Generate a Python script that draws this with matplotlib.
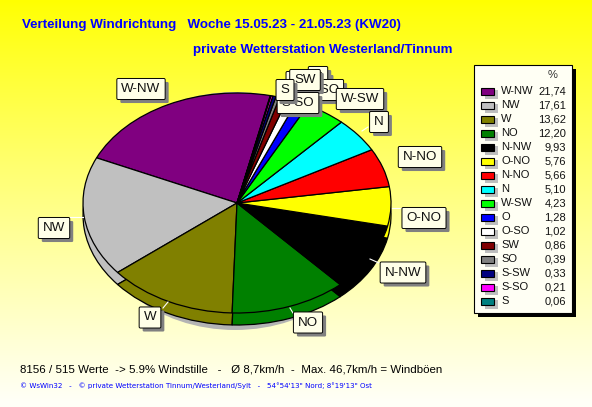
import numpy as np
import matplotlib
matplotlib.use("Agg")
import matplotlib.pyplot as plt
from matplotlib.patches import Rectangle, Ellipse

plt.rcParams['font.family'] = ['Liberation Sans', 'DejaVu Sans']

labels = ["W-NW", "NW", "W", "NO", "N-NW", "O-NO", "N-NO", "N", "W-SW", "O", "O-SO", "SW", "SO", "S-SW", "S-SO", "S"]
values = [21.74, 17.61, 13.62, 12.20, 9.93, 5.76, 5.66, 5.10, 4.23, 1.28, 1.02, 0.86, 0.39, 0.33, 0.21, 0.06]
colors = ["#800080", "#C0C0C0", "#808000", "#008000", "#000000", "#FFFF00", "#FF0000", "#00FFFF",
          "#00FF00", "#0000FF", "#FFFFFF", "#800000", "#808080", "#000080", "#FF00FF", "#008080"]
title1 = "Verteilung Windrichtung   Woche 15.05.23 - 21.05.23 (KW20)"
title2 = "private Wetterstation Westerland/Tinnum"
info = "8156 / 515 Werte  -> 5.9% Windstille   -   Ø 8,7km/h  -  Max. 46,7km/h = Windböen"
credit = "© WsWin32   -   © private Wetterstation Tinnum/Westerland/Sylt   -   54°54'13\" Nord; 8°19'13\" Ost"

W, H = 592, 407
fig = plt.figure(figsize=(W / 100, H / 100), dpi=100)
bg = fig.add_axes([0, 0, 1, 1])
bg.set_xlim(0, W); bg.set_ylim(H, 0); bg.axis("off")
grad = np.zeros((256, 1, 3))
t = np.linspace(0, 1, 256)
grad[:, 0, 0] = 1; grad[:, 0, 1] = 1; grad[:, 0, 2] = np.clip(0.96 * t ** 0.9 * 1.02, 0, 0.97)
bg.imshow(grad, extent=(0, W, H, 0), aspect="auto", zorder=0)
bg.add_patch(Ellipse((235, 211), 290, 238, fc="#B4B4B4", ec="none", zorder=1))

CX, CY, RX, RY = 237, 203, 154, 110
START = 77.5

def draw_pie(dy, z):
    ax = fig.add_axes([(CX - RX) / W, 1 - (CY + dy + RY) / H, 2 * RX / W, 2 * RY / H], zorder=z)
    ax.patch.set_alpha(0)
    ax.pie(values, colors=colors, startangle=START, counterclock=True, radius=1,
           wedgeprops=dict(edgecolor="black", linewidth=0.9))
    ax.set_aspect("auto"); ax.set_xlim(-1, 1); ax.set_ylim(-1, 1)
    return ax

# side wall, then top face
draw_pie(12, 2)
draw_pie(0, 3)

top = fig.add_axes([0, 0, 1, 1], zorder=5)
top.set_xlim(0, W); top.set_ylim(H, 0); top.axis("off"); top.patch.set_alpha(0)

# leader lines and label boxes (drawn back to front)
box_pos = {"S-SW": (308, 82), "SO": (300, 103), "O": (318, 77), "O-SO": (322, 90), "W-SW": (360, 99), "N": (379, 122),
           "N-NO": (420, 157), "O-NO": (424, 218), "N-NW": (403, 272.5), "NO": (308, 322.5), "W": (150, 317.5),
           "NW": (54, 228), "W-NW": (141, 89), "SW": (305, 80), "S-SO": (298, 103), "S": (285, 90)}
leaders = [((392, 208), (402, 208)), ((370, 259), (379, 263)), ((290, 308), (293, 313)),
           ((168, 302), (163, 308)), ((70, 217), (83, 217)), ((362, 131), (368, 127))]
for a, b in leaders:
    top.plot([a[0], b[0]], [a[1], b[1]], color="white", lw=0.8, zorder=6)

order = ["S-SW", "SO", "O", "O-SO", "W-SW", "N", "N-NO", "O-NO", "N-NW", "NO", "W", "NW", "W-NW", "SW", "S-SO", "S"]
for i, n in enumerate(order):
    x, y = box_pos[n]
    z = 10 + i
    pad = 0.34
    top.text(x + 3.5, y + 3.5, n, fontsize=9.6, ha="center", va="center", color="none", zorder=z,
             bbox=dict(boxstyle=f"round,pad={pad},rounding_size=0.1", fc="#808080", ec="none"))
    top.text(x, y, n, fontsize=9.6, ha="center", va="center", color="#111111", zorder=z + 0.5,
             bbox=dict(boxstyle=f"round,pad={pad},rounding_size=0.1", fc="#FFFFE8", ec="black", lw=0.7))

# legend panel
top.add_patch(Rectangle((478, 69), 98, 248, fc="black", ec="none", zorder=40))
top.add_patch(Rectangle((474, 65), 97.5, 247.5, fc="#FFFFF4", ec="black", lw=0.8, zorder=41))
top.text(553, 75, "%", fontsize=8, ha="center", va="center", color="#333333", zorder=42)
for i, (n, v, c) in enumerate(zip(labels, values, colors)):
    y = 91 + 14 * i
    top.add_patch(Rectangle((485, y - 1), 13, 9, fc="#BEBEBE", ec="none", zorder=42))
    top.add_patch(Rectangle((481, y - 3.5), 12.5, 7, fc=c, ec="black", lw=0.8, zorder=43))
    top.text(501, y, n, fontsize=8, ha="left", va="center", color="#111111", zorder=43)
    top.text(566, y, f"{v:.2f}".replace(".", ","), fontsize=8, ha="right", va="center", color="#111111", zorder=43)

top.text(22, 25, title1, fontsize=9.6, fontweight="bold", color="#0000FF", ha="left", va="center")
top.text(193, 50, title2, fontsize=9.65, fontweight="bold", color="#0000FF", ha="left", va="center")
top.text(20, 369, info, fontsize=8.25, color="black", ha="left", va="center")
top.text(20, 386, credit, fontsize=5.1, color="#0000FF", ha="left", va="center", family="DejaVu Sans")

fig.savefig("out.png", dpi=100)
